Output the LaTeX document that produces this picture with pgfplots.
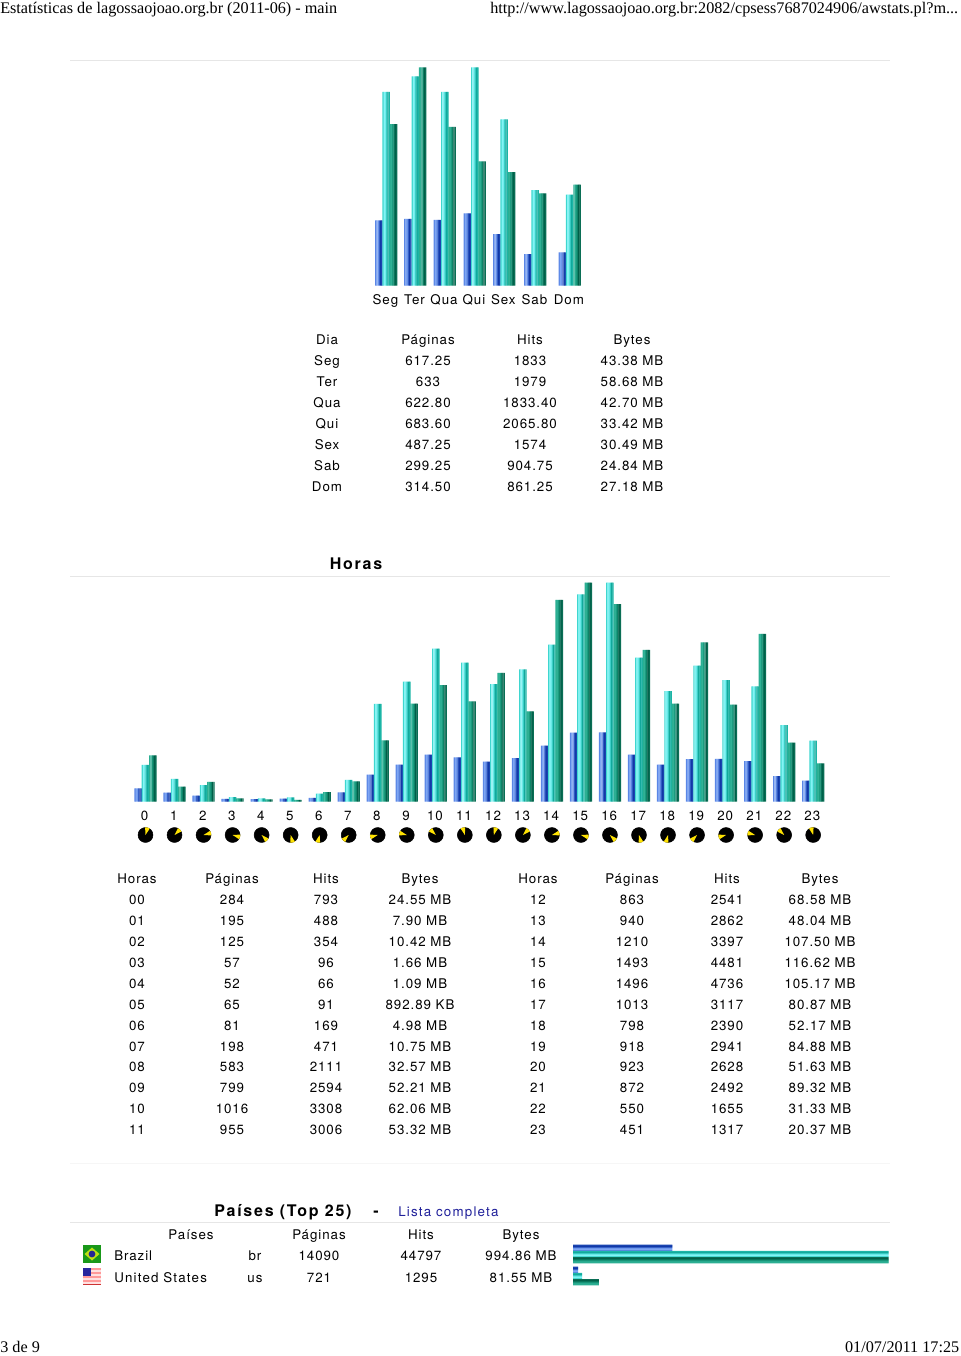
\documentclass[border=0pt]{standalone}
\usepackage{fontspec}
\usepackage{pgfplots}
\usepackage{pgfplotstable}
\pgfplotsset{compat=1.18}
\setmainfont{Liberation Serif}
\newfontfamily\pg[LetterSpace=7]{TeX Gyre Heros}
\definecolor{linegray}{HTML}{E6E6E6}
\definecolor{faintgray}{HTML}{F6F6F6}
\definecolor{linkblue}{HTML}{20209A}

\pgfdeclareplotmark{clockwedge}{%
  \pgfpathmoveto{\pgfpointorigin}%
  \pgfpathlineto{\pgfpointpolar{72}{\pgfplotmarksize}}%
  \pgfpathlineto{\pgfpointpolar{90}{\pgfplotmarksize}}%
  \pgfpathlineto{\pgfpointpolar{108}{\pgfplotmarksize}}%
  \pgfpathclose\pgfusepathqfill}

% hourly table, Bytes in MB
\pgfplotstableread{
hour pages hits bytes
0 284 793 24.55
1 195 488 7.90
2 125 354 10.42
3 57 96 1.66
4 52 66 1.09
5 65 91 0.87
6 81 169 4.98
7 198 471 10.75
8 583 2111 32.57
9 799 2594 52.21
10 1016 3308 62.06
11 955 3006 53.32
12 863 2541 68.58
13 940 2862 48.04
14 1210 3397 107.50
15 1493 4481 116.62
16 1496 4736 105.17
17 1013 3117 80.87
18 798 2390 52.17
19 918 2941 84.88
20 923 2628 51.63
21 872 2492 89.32
22 550 1655 31.33
23 451 1317 20.37
}\hourdata

% x is the pixel column of each group, the days are not evenly spaced
\pgfplotstableread{
x pages hits bytes
386.2 617.25 1833 43.38
415.3 633 1979 58.68
444.8 622.80 1833.40 42.70
474.8 683.60 2065.80 33.42
504.2 487.25 1574 30.49
535.2 299.25 904.75 24.84
569.7 314.50 861.25 27.18
}\daydata

% y is the pixel row of each country
\pgfplotstableread{
y pages hits bytes
1254 14090 44797 994.86
1276 721 1295 81.55
}\countrydata

\pgfplotsset{
  strip/.style={ybar, bar width=1.05pt, draw=none},
  pagecharts/.style={scale only axis, anchor=south west, clip=false,
    axis line style={draw=none}, tick style={draw=none}, ytick=\empty,
    ymin=0, xtick=data,
    xticklabel style={font=\pg\fontsize{10}{12}\selectfont, anchor=base, yshift=-14.3pt, xshift=-0.6pt}},
}

% one bar series drawn as six narrow strips, that gives the shaded look of the gifs
% colours, base shift, strip step, plot source
\newcommand{\series}[9]{%
  \addplot[strip, fill=#1, bar shift={(#7-2.5*#8)*1pt}] #9;
  \addplot[strip, fill=#2, bar shift={(#7-1.5*#8)*1pt}] #9;
  \addplot[strip, fill=#3, bar shift={(#7-0.5*#8)*1pt}] #9;
  \addplot[strip, fill=#4, bar shift={(#7+0.5*#8)*1pt}] #9;
  \addplot[strip, fill=#5, bar shift={(#7+1.5*#8)*1pt}] #9;
  \addplot[strip, fill=#6, bar shift={(#7+2.5*#8)*1pt}] #9;
}
\newcommand{\bluebars}[3]{\series{blue1}{blue2}{blue3}{blue4}{blue5}{blue6}{#1}{#2}{#3}}
\newcommand{\cyanbars}[3]{\series{cyan1}{cyan2}{cyan3}{cyan4}{cyan5}{cyan6}{#1}{#2}{#3}}
\newcommand{\greenbars}[3]{\series{green1}{green2}{green3}{green4}{green5}{green6}{#1}{#2}{#3}}
\definecolor{blue1}{HTML}{5A86E6}\definecolor{blue2}{HTML}{7FA6F2}\definecolor{blue3}{HTML}{6F98EC}
\definecolor{blue4}{HTML}{3560C8}\definecolor{blue5}{HTML}{1238A6}\definecolor{blue6}{HTML}{1A44B0}
\definecolor{cyan1}{HTML}{3FD6CF}\definecolor{cyan2}{HTML}{86F6F6}\definecolor{cyan3}{HTML}{70ECEC}
\definecolor{cyan4}{HTML}{3CCFC6}\definecolor{cyan5}{HTML}{12A89C}\definecolor{cyan6}{HTML}{1BB5A6}
\definecolor{green1}{HTML}{2BAE92}\definecolor{green2}{HTML}{30B296}\definecolor{green3}{HTML}{1C9C80}
\definecolor{green4}{HTML}{0E8468}\definecolor{green5}{HTML}{005F48}\definecolor{green6}{HTML}{0A6E55}

\newcommand{\cell}[3]{\node[anchor=base, inner sep=0pt] at (#1,#2) {\pg\fontsize{10}{12}\selectfont #3};}
\newcommand{\hr}[2][linegray]{\draw[#1, line width=0.75pt] (70,#2) -- (890,#2);}

\begin{document}
\begin{tikzpicture}[x=0.75pt,y=-0.75pt]
\path[use as bounding box] (0,0) rectangle (960,1356);

\node[anchor=base west, inner sep=0pt] at (0,13) {\fontsize{12.15}{14}\selectfont Estatísticas de lagossaojoao.org.br (2011-06) - main};
\node[anchor=base west, inner sep=0pt] at (490,13) {\fontsize{12.15}{14}\selectfont http://www.lagossaojoao.org.br:2082/cpsess7687024906/awstats.pl?m...};
\node[anchor=base west, inner sep=0pt] at (0,1352.5) {\fontsize{12.15}{14}\selectfont 3 de 9};
\node[anchor=base east, inner sep=0pt] at (959.5,1352.5) {\fontsize{12.15}{14}\selectfont 01/07/2011 17:25};

\hr{60.5}\hr{576.5}\hr{1222.5}\hr[faintgray]{1163.5}

% days of the week
\begin{axis}[pagecharts, at={({360*0.75pt},{-285.7*0.75pt})},
  width=180pt, height=163.8pt, xmin=360, xmax=600, ymax=2065.8,
  xticklabels={Seg,Ter,Qua,Qui,Sex,Sab,Dom}]
\bluebars{-5.5}{0.92}{table[x=x,y=pages]{\daydata}}
\cyanbars{0}{0.92}{table[x=x,y=hits]{\daydata}}
\greenbars{5.5}{0.92}{table[x=x,y expr=\thisrow{bytes}*2065.8/58.68]{\daydata}}
\end{axis}

\foreach \x/\t in {327/Dia,428/Páginas,530/Hits,632/Bytes} {\cell{\x}{344}{\t}}
\foreach \y/\a/\b/\c/\d in {
 365/Seg/617.25/1833/43.38 MB, 386/Ter/633/1979/58.68 MB, 407/Qua/622.80/1833.40/42.70 MB,
 428/Qui/683.60/2065.80/33.42 MB, 449/Sex/487.25/1574/30.49 MB, 470/Sab/299.25/904.75/24.84 MB,
 491/Dom/314.50/861.25/27.18 MB} {
 \cell{327}{\y}{\a}\cell{428}{\y}{\b}\cell{530}{\y}{\c}\cell{632}{\y}{\d}}

\node[anchor=base, inner sep=0pt] at (356,569) {\pg\fontsize{12}{14}\selectfont\addfontfeature{LetterSpace=11}\bfseries Horas};

% hours
\begin{axis}[pagecharts, at={({116.47*0.75pt},{-801.5*0.75pt})},
  width=544.3pt, height=164.1pt, xmin=-1, xmax=24, ymax=4736,
  xticklabels={0,...,23},
  visualization depends on={-30*\thisrow{hour}-15 \as \rot}]
\bluebars{-5.5}{0.92}{table[x=hour,y=pages]{\hourdata}}
\cyanbars{0}{0.92}{table[x=hour,y=hits]{\hourdata}}
\greenbars{5.5}{0.92}{table[x=hour,y expr=\thisrow{bytes}*4736/116.62]{\hourdata}}
\addplot[only marks, mark=*, black, mark size=5.6pt, forget plot] table[x=hour,y expr=-725]{\hourdata};
\addplot[scatter, only marks, mark=clockwedge, mark size=5.8pt, forget plot,
  scatter/use mapped color={fill=yellow!85!orange, draw=none},
  scatter/@pre marker code/.append style={/tikz/rotate=\rot}]
  table[x=hour,y expr=-725]{\hourdata};
\end{axis}

\foreach \x/\t in {137/Horas,232/Páginas,326/Hits,420/Bytes,538/Horas,632/Páginas,727/Hits,820/Bytes} {\cell{\x}{883}{\t}}
\foreach \y/\a/\b/\c/\d/\e/\f/\g/\h in {
 904/00/284/793/24.55 MB/12/863/2541/68.58 MB,
 925/01/195/488/7.90 MB/13/940/2862/48.04 MB,
 946/02/125/354/10.42 MB/14/1210/3397/107.50 MB,
 967/03/57/96/1.66 MB/15/1493/4481/116.62 MB,
 988/04/52/66/1.09 MB/16/1496/4736/105.17 MB,
 1009/05/65/91/892.89 KB/17/1013/3117/80.87 MB,
 1030/06/81/169/4.98 MB/18/798/2390/52.17 MB,
 1051/07/198/471/10.75 MB/19/918/2941/84.88 MB,
 1071.7/08/583/2111/32.57 MB/20/923/2628/51.63 MB,
 1092.6/09/799/2594/52.21 MB/21/872/2492/89.32 MB,
 1113.5/10/1016/3308/62.06 MB/22/550/1655/31.33 MB,
 1134.5/11/955/3006/53.32 MB/23/451/1317/20.37 MB} {
 \cell{137}{\y}{\a}\cell{232}{\y}{\b}\cell{326}{\y}{\c}\cell{420}{\y}{\d}
 \cell{538}{\y}{\e}\cell{632}{\y}{\f}\cell{727}{\y}{\g}\cell{820}{\y}{\h}}

% countries
\node[anchor=base west, inner sep=0pt] at (214,1216) {\pg\fontsize{12}{14}\selectfont\addfontfeature{LetterSpace=11}\bfseries Países (Top 25)};
\node[anchor=base, inner sep=0pt] at (376,1216) {\pg\fontsize{12}{14}\selectfont\bfseries -};
\node[anchor=base west, inner sep=0pt, text=linkblue] at (398,1216) {\pg\fontsize{10}{12}\selectfont\addfontfeature{LetterSpace=9} Lista completa};
\foreach \x/\t in {191/Países,319/Páginas,421/Hits,521/Bytes} {\cell{\x}{1239}{\t}}
\node[anchor=base west, inner sep=0pt] at (114,1260) {\pg\fontsize{10}{12}\selectfont Brazil};
\node[anchor=base west, inner sep=0pt] at (114,1282) {\pg\fontsize{10}{12}\selectfont\addfontfeature{LetterSpace=9} United States};
\cell{255}{1260}{br}\cell{319}{1260}{14090}\cell{421}{1260}{44797}\cell{521}{1260}{994.86 MB}
\cell{255}{1282}{us}\cell{319}{1282}{721}\cell{421}{1282}{1295}\cell{521}{1282}{81.55 MB}

% flags
\fill[green!55!black!90!white] (83.3,1245) rectangle (100.7,1262.7);
\fill[yellow!75!green] (84.5,1254) -- (92,1247.5) -- (99.5,1254) -- (92,1260.5) -- cycle;
\fill[blue!50!black!85!white] (92,1254) circle (3.4);
\fill[red!40!white] (83.3,1267.7) rectangle (100.7,1285);
\foreach \y in {1270,1274,1278,1282} {\fill[red!12!white] (83.3,\y) rectangle (100.7,\y+2);}
\fill[red!60!gray] (83.3,1284) rectangle (100.7,1285);
\fill[blue!55!black!85!white] (83.3,1267.7) rectangle (91,1276);

\begin{axis}[scale only axis, anchor=south west, at={({573*0.75pt},{-1290*0.75pt})},
  width=236.775pt, height=37.5pt, xmin=0, xmax=44797, ymin=1240, ymax=1290, y dir=reverse,
  hide axis, clip=false, strip/.style={xbar, bar width=0.9pt, draw=none}]
\bluebars{4.65}{0.78}{table[x=pages,y=y]{\countrydata}}
\cyanbars{0}{0.78}{table[x=hits,y=y]{\countrydata}}
\greenbars{-4.65}{0.78}{table[x expr=\thisrow{bytes}*44797/994.86,y=y]{\countrydata}}
\end{axis}
\end{tikzpicture}
\end{document}
